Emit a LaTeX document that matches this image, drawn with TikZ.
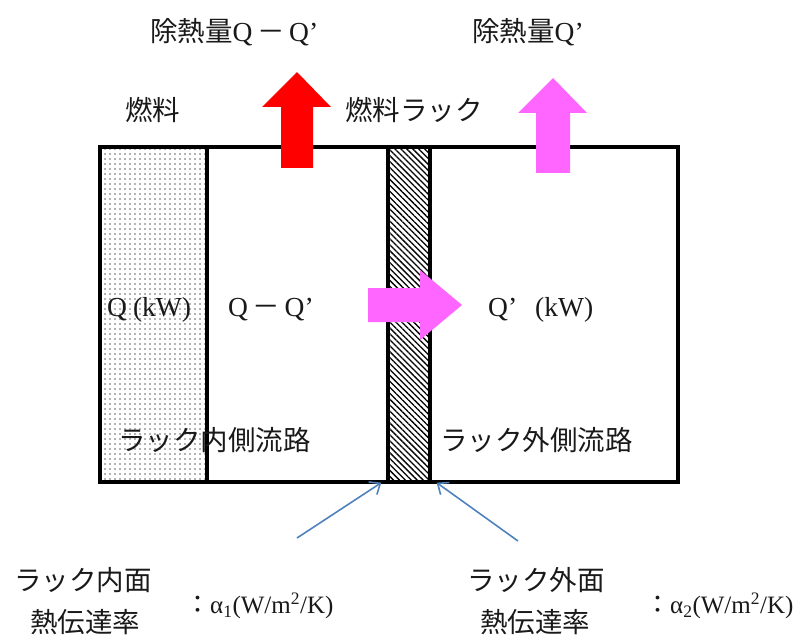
\documentclass[tikz,border=0pt]{standalone}
\usepackage{fontspec}
\setmainfont{Liberation Serif}
\newfontfamily\jp{Noto Sans CJK JP}
\usepackage{tikz}
\usetikzlibrary{arrows.meta, positioning, patterns.meta}
\usepackage{xcolor}
\definecolor{heatred}{RGB}{255,0,0}
\definecolor{heatpink}{RGB}{255,102,255}
\definecolor{steel}{RGB}{79,129,189}
\definecolor{ink}{RGB}{25,25,25}

\begin{document}
\begin{tikzpicture}[x=1pt, y=-1pt, font=\fontsize{27.5}{32}\selectfont, text=ink,
  wall/.style={draw, line width=3.5pt, inner sep=0pt, minimum height=335pt},
  lbl/.style={inner sep=0pt, anchor=west},
  coef/.style={steel, line width=1.6pt, -{Straight Barb[length=9pt, width=15pt]}}]
  \useasboundingbox (0,0) rectangle (806,639);

  % Channel, fuel and rack
  \node[wall, minimum width=578pt] (pool) at (389,314.5) {};
  \node[wall, minimum width=107pt, pattern={Dots[distance=5pt, radius=0.8pt]}, pattern color=black!60] (fuel) at (153.5,314.5) {};
  \node[wall, minimum width=42pt, pattern={Lines[angle=-45, distance=4.2pt, line width=1.3pt]}] (rack) at (409,314.5) {};

  % Heat flow arrows
  \fill[heatred] (281,168) -- (281,107) -- (262,107) -- (297,72) -- (331,107) -- (313,107) -- (313,168) -- cycle;
  \fill[heatpink] (536,173) -- (536,113) -- (518,113) -- (553,78) -- (587,113) -- (570,113) -- (570,173) -- cycle;
  \fill[heatpink] (368,288) -- (420,288) -- (420,270) -- (462,305) -- (420,340) -- (420,322) -- (368,322) -- cycle;

  % Labels
  \node[lbl] (qout1) at (150,32) {{\jp 除熱量}Q\,{\jp －}\,Q’};
  \node[lbl] (qout2) at (472,32) {{\jp 除熱量}Q’};
  \node[lbl] (fuellbl) at (125,110) {\jp 燃料};
  \node[lbl] (racklbl) at (345,110) {\jp 燃料ラック};
  \node[lbl] (qfuel) at (107,310) {Q\hspace{6pt}(kW)};
  \node[lbl] (qin) at (228,310) {Q\,{\jp －}\,Q’};
  \node[lbl] (qrack) at (488,310) {Q’\hspace{18pt}(kW)};
  \node[lbl] (inner) at (118,440) {\jp ラック内側流路};
  \node[lbl] (outer) at (440,440) {\jp ラック外側流路};

  % Heat transfer coefficients
  \node[lbl] (alin) at (14,580) {\jp ラック内面};
  \node[lbl] (htin) at (30,622) {\jp 熱伝達率};
  \node[lbl, font=\fontsize{25}{30}\selectfont] (a1) at (185,606) {{\jp ：}α\textsubscript{1}(W/m\textsuperscript{2}/K)};
  \node[lbl] (alout) at (467,580) {\jp ラック外面};
  \node[lbl] (htout) at (480,622) {\jp 熱伝達率};
  \node[lbl, font=\fontsize{25}{30}\selectfont] (a2) at (645,606) {{\jp ：}α\textsubscript{2}(W/m\textsuperscript{2}/K)};

  \coordinate (tail1) at (297,538);
  \coordinate (tail2) at (518,541);
  \draw[coef] (tail1) -- ([xshift=-6pt]rack.south west);
  \draw[coef] (tail2) -- ([xshift=6pt]rack.south east);
\end{tikzpicture}
\end{document}
